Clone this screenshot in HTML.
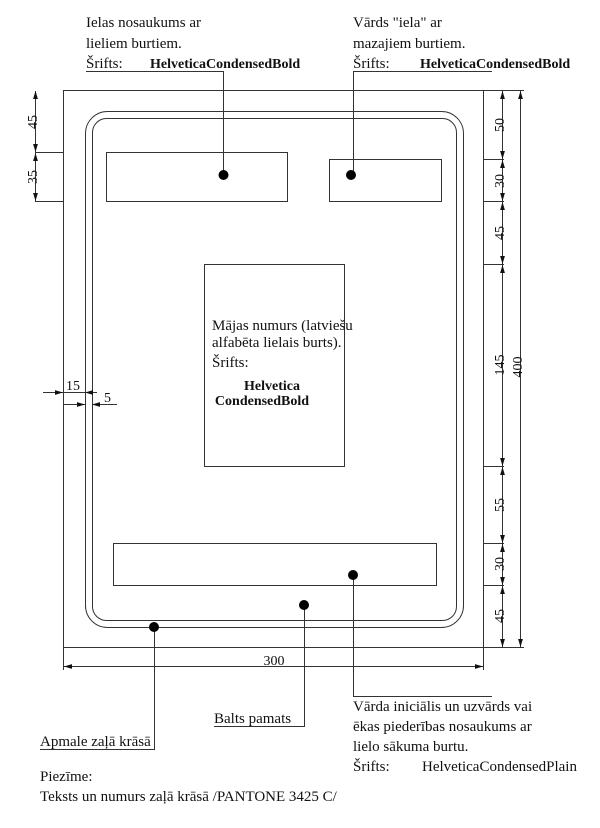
<!DOCTYPE html>
<html><head><meta charset="utf-8"><style>
html,body{margin:0;padding:0;background:#fff;}
svg{display:block;}
text{font-family:"Liberation Serif",serif;font-size:15px;fill:#111;}
.b{font-weight:bold;font-size:14px;}
.d{font-size:14px;}
</style></head><body>
<svg width="600" height="828" viewBox="0 0 600 828" xmlns="http://www.w3.org/2000/svg">
<defs>
<marker id="a" viewBox="0 0 10 6" refX="10" refY="3" markerWidth="8" markerHeight="5" orient="auto-start-reverse"><path d="M0,0L10,3L0,6z" fill="#111"/></marker>
</defs>
<g fill="none" stroke="#333" stroke-width="1">
<rect x="63.5" y="90.5" width="420" height="557"/>
<rect x="85.5" y="111.5" width="378" height="516" rx="22"/>
<rect x="92.5" y="118.5" width="364" height="502" rx="14"/>
<rect x="106.5" y="152.5" width="181" height="49"/>
<rect x="329.5" y="159.5" width="112" height="42"/>
<rect x="204.5" y="264.5" width="140" height="202"/>
<rect x="113.5" y="543.5" width="323" height="42"/>
<!-- left dims -->
<line x1="35" y1="152.5" x2="63" y2="152.5"/>
<line x1="35" y1="201.5" x2="63" y2="201.5"/>
<line x1="35.5" y1="91" x2="35.5" y2="152" marker-start="url(#a)" marker-end="url(#a)"/>
<line x1="35.5" y1="153" x2="35.5" y2="201" marker-start="url(#a)" marker-end="url(#a)"/>
<!-- right dims -->
<line x1="484" y1="159.5" x2="504" y2="159.5"/>
<line x1="484" y1="201.5" x2="504" y2="201.5"/>
<line x1="484" y1="264.5" x2="504" y2="264.5"/>
<line x1="484" y1="466.5" x2="504" y2="466.5"/>
<line x1="484" y1="543.5" x2="504" y2="543.5"/>
<line x1="484" y1="585.5" x2="504" y2="585.5"/>
<line x1="484" y1="90.5" x2="524" y2="90.5"/>
<line x1="484" y1="647.5" x2="524" y2="647.5"/>
<line x1="502.5" y1="91" x2="502.5" y2="159" marker-start="url(#a)" marker-end="url(#a)"/>
<line x1="502.5" y1="160" x2="502.5" y2="201" marker-start="url(#a)" marker-end="url(#a)"/>
<line x1="502.5" y1="202" x2="502.5" y2="264" marker-start="url(#a)" marker-end="url(#a)"/>
<line x1="502.5" y1="265" x2="502.5" y2="466" marker-start="url(#a)" marker-end="url(#a)"/>
<line x1="502.5" y1="467" x2="502.5" y2="543" marker-start="url(#a)" marker-end="url(#a)"/>
<line x1="502.5" y1="544" x2="502.5" y2="585" marker-start="url(#a)" marker-end="url(#a)"/>
<line x1="502.5" y1="586" x2="502.5" y2="647" marker-start="url(#a)" marker-end="url(#a)"/>
<line x1="520.5" y1="91" x2="520.5" y2="647" marker-start="url(#a)" marker-end="url(#a)"/>
<!-- bottom dim -->
<line x1="63.5" y1="648" x2="63.5" y2="670"/>
<line x1="483.5" y1="648" x2="483.5" y2="670"/>
<line x1="64" y1="666.5" x2="483" y2="666.5" marker-start="url(#a)" marker-end="url(#a)"/>
<!-- 15 / 5 -->
<line x1="43" y1="392.5" x2="63" y2="392.5" marker-end="url(#a)"/>
<line x1="97" y1="392.5" x2="85" y2="392.5" marker-end="url(#a)"/>
<line x1="63" y1="392.5" x2="85" y2="392.5"/>
<line x1="63" y1="404.5" x2="85" y2="404.5" marker-end="url(#a)"/>
<line x1="117" y1="404.5" x2="92" y2="404.5" marker-end="url(#a)"/>
<!-- leaders -->
<polyline points="86,71.5 223.5,71.5 223.5,175"/>
<polyline points="492,71.5 353.5,71.5 353.5,175"/>
<polyline points="353.5,575 353.5,696.5 492,696.5"/>
<polyline points="304.5,605 304.5,726.5 214,726.5"/>
<polyline points="154.5,627 154.5,749.5 40,749.5"/>
</g>
<g fill="#000">
<circle cx="223.5" cy="175" r="5"/>
<circle cx="351" cy="175" r="5"/>
<circle cx="353" cy="575" r="5"/>
<circle cx="304" cy="605" r="5"/>
<circle cx="154" cy="627" r="5"/>
</g>
<g class="d">
<text class="d" transform="translate(37,122) rotate(-90)" text-anchor="middle">45</text>
<text class="d" transform="translate(37,177) rotate(-90)" text-anchor="middle">35</text>
<text class="d" transform="translate(504,125) rotate(-90)" text-anchor="middle">50</text>
<text class="d" transform="translate(504,181) rotate(-90)" text-anchor="middle">30</text>
<text class="d" transform="translate(504,233) rotate(-90)" text-anchor="middle">45</text>
<text class="d" transform="translate(504,365) rotate(-90)" text-anchor="middle">145</text>
<text class="d" transform="translate(504,505) rotate(-90)" text-anchor="middle">55</text>
<text class="d" transform="translate(504,564) rotate(-90)" text-anchor="middle">30</text>
<text class="d" transform="translate(504,616) rotate(-90)" text-anchor="middle">45</text>
<text class="d" transform="translate(522,367) rotate(-90)" text-anchor="middle">400</text>
<text class="d" x="274" y="665" text-anchor="middle">300</text>
<text class="d" x="66" y="390">15</text>
<text class="d" x="104" y="402">5</text>
</g>
<text x="86" y="27">Ielas nosaukums ar</text>
<text x="86" y="48">lieliem burtiem.</text>
<text x="86" y="68">Šrifts:</text>
<text class="b" x="150" y="68">HelveticaCondensedBold</text>
<text x="353" y="27">Vārds "iela" ar</text>
<text x="353" y="48">mazajiem burtiem.</text>
<text x="353" y="68">Šrifts:</text>
<text class="b" x="420" y="68">HelveticaCondensedBold</text>
<text x="212" y="330">Mājas numurs (latviešu</text>
<text x="212" y="347">alfabēta lielais burts).</text>
<text x="212" y="367">Šrifts:</text>
<text class="b" x="272" y="390" text-anchor="middle">Helvetica</text>
<text class="b" x="262" y="405" text-anchor="middle">CondensedBold</text>
<text x="353" y="711">Vārda iniciālis un uzvārds vai</text>
<text x="353" y="731">ēkas piederības nosaukums ar</text>
<text x="353" y="751">lielo sākuma burtu.</text>
<text x="353" y="771">Šrifts:</text>
<text x="422" y="771">HelveticaCondensedPlain</text>
<text x="214" y="723">Balts pamats</text>
<text x="40" y="746">Apmale zaļā krāsā</text>
<text x="40" y="781">Piezīme:</text>
<text x="40" y="801">Teksts un numurs zaļā krāsā  /PANTONE 3425 C/</text>
</svg>
</body></html>
